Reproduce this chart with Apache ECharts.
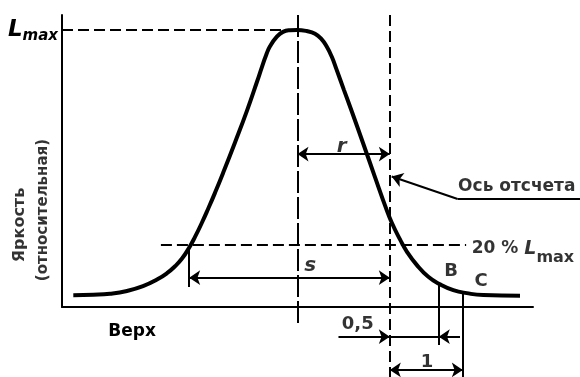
<!DOCTYPE html>
<html>
<head>
<meta charset="utf-8">
<script src="https://cdn.jsdelivr.net/npm/echarts@6/dist/echarts.min.js"></script>
<style>
  html, body { margin: 0; background: #fff; }
  #chart { width: 580px; height: 377px; }
</style>
</head>
<body>
<div id="chart"></div>
<script>
// brightness profile (relative, Lmax = 1), x in arbitrary units 0..100
var curveX = [2.40, 6.65, 10.19, 13.80, 17.20, 20.17, 22.29, 23.99, 25.48, 26.96, 28.24, 29.72, 30.99, 32.48,
  34.18, 36.73, 39.28, 41.40, 42.46, 43.31, 44.16, 45.58, 46.92, 48.41, 49.89,
  51.95, 53.72, 55.14, 56.20, 57.26, 58.32, 59.87, 61.57, 63.91, 66.45, 68.79, 70.00, 71.76, 73.18,
  75.31, 77.77, 80.25, 83.08, 85.92, 89.45, 97.24];
var curveY = [0.042, 0.044, 0.048, 0.058, 0.075, 0.099, 0.122, 0.147, 0.175, 0.213, 0.253, 0.305, 0.353, 0.412,
  0.483, 0.594, 0.709, 0.813, 0.867, 0.908, 0.941, 0.975, 0.993, 0.999, 1.0,
  0.996, 0.986, 0.966, 0.940, 0.904, 0.856, 0.783, 0.704, 0.592, 0.469, 0.357, 0.305, 0.244, 0.201,
  0.152, 0.109, 0.082, 0.061, 0.050, 0.043, 0.041];

// key positions
var peakX = 50;
var refX = 69.6;      // reference axis
var crossX = 27.0;    // left 20 % crossing
var bX = 80.0;
var cX = 85.1;
var lmax = 1;
var level20 = 0.224;
var yTop = 1.054;

// dimension levels
var rLevel = 0.552;
var sLevel = 0.106;
var halfLevel = -0.107;
var oneLevel = -0.227;

// axis label values
var yLabelValues = [1];
var xLabelValues = [14.9];

// text labels: [x, y, text]
var centerLabels = [
  [59.4, 0.58, '{i|r}'],
  [52.7, 0.15, '{i|s}'],
  [82.6, 0.13, 'B'],
  [89.0, 0.094, 'C'],
  [62.8, -0.061, '0,5'],
  [77.5, -0.199, '1']
];
var leftLabels = [
  [84.1, 0.433, 'Ось отсчета'],
  [87.0, 0.206, '{a|20 % }{L|L}{m|max}']
];
var yTitle = [
  [-9.0, 0.296, 'Яркость'],
  [-4.0, 0.35, '(относительная)']
];
var yTitleSizes = [16, 15];

function seg(x1, y1, x2, y2) { return { coords: [[x1, y1], [x2, y2]] }; }
function pts(xs, ys) { return xs.map(function (x, i) { return [x, ys[i]]; }); }

var font = 'DejaVu Sans';
var black = '#000';

var myChart = echarts.init(document.getElementById('chart'));
var option = {
  animation: false,
  grid: { left: 62, right: 47, top: 15, bottom: 70 },
  xAxis: {
    type: 'value', min: 0, max: 100,
    splitLine: { show: false },
    axisTick: { show: false },
    axisLine: { lineStyle: { color: black, width: 2 } },
    axisLabel: {
      customValues: xLabelValues, margin: 16,
      formatter: function () { return 'Верх'; },
      color: black, fontFamily: font, fontSize: 17, fontWeight: 'bold'
    }
  },
  yAxis: {
    type: 'value', min: 0, max: yTop,
    splitLine: { show: false },
    axisTick: { show: false },
    axisLine: { show: true, lineStyle: { color: black, width: 2 } },
    axisLabel: {
      customValues: yLabelValues, margin: 4,
      formatter: function () { return '{L|L}{m|max}'; },
      rich: {
        L: { fontFamily: font, fontSize: 23, fontStyle: 'italic', fontWeight: 'bold', lineHeight: 22, verticalAlign: 'top', color: black },
        m: { fontFamily: font, fontSize: 15, fontStyle: 'italic', fontWeight: 'bold', lineHeight: 16, padding: [10, 0, 0, 0], verticalAlign: 'top', color: black }
      }
    }
  },
  series: [
    {
      type: 'line', data: pts(curveX, curveY), smooth: 0.5, symbol: 'none',
      lineStyle: { color: black, width: 4 }, z: 5
    },
    {
      // dashed guides
      type: 'lines', coordinateSystem: 'cartesian2d', clip: false,
      lineStyle: { color: black, width: 2, type: [11, 5], opacity: 1 },
      data: [
        seg(0, lmax, peakX, lmax),
        seg(21.0, level20, 85.8, level20),
        seg(refX, yTop, refX, -0.253)
      ]
    },
    {
      // centre line through the peak
      type: 'lines', coordinateSystem: 'cartesian2d', clip: false,
      lineStyle: { color: black, width: 2, type: [22, 4], opacity: 1 },
      data: [seg(peakX, yTop, peakX, -0.065)]
    },
    {
      // plain thin lines
      type: 'lines', coordinateSystem: 'cartesian2d', clip: false,
      lineStyle: { color: black, width: 2, opacity: 1 },
      data: [
        seg(crossX, 0.21, crossX, 0.072),
        seg(bX, 0.08, bX, -0.137),
        seg(cX, 0.05, cX, -0.253),
        seg(refX, halfLevel, bX, halfLevel),
        seg(84.0, 0.39, 110, 0.39)
      ]
    },
    {
      // double-headed dimension arrows
      type: 'lines', coordinateSystem: 'cartesian2d', clip: false,
      symbol: ['arrow', 'arrow'], symbolSize: 11,
      lineStyle: { color: black, width: 2, opacity: 1 },
      data: [
        seg(peakX, rLevel, refX, rLevel),
        seg(crossX, sLevel, refX, sLevel),
        seg(refX, oneLevel, cX, oneLevel)
      ]
    },
    {
      // single-headed arrows
      type: 'lines', coordinateSystem: 'cartesian2d', clip: false,
      symbol: ['none', 'arrow'], symbolSize: 11,
      lineStyle: { color: black, width: 2, opacity: 1 },
      data: [
        seg(58.7, halfLevel, refX, halfLevel),
        seg(84.5, halfLevel, bX, halfLevel),
        seg(84.0, 0.39, 70.0, 0.471)
      ]
    },
    {
      type: 'scatter', symbolSize: 0, clip: false, silent: true,
      data: centerLabels,
      label: {
        show: true, position: 'inside', color: black, fontFamily: font, fontSize: 18, fontWeight: 'bold',
        formatter: function (p) { return p.data[2]; },
        rich: { i: { fontFamily: font, fontSize: 20, fontStyle: 'italic', fontWeight: 'bold', color: black } }
      }
    },
    {
      type: 'scatter', symbolSize: 0, clip: false, silent: true,
      data: leftLabels,
      label: {
        show: true, position: 'right', distance: 0, color: black, fontFamily: font, fontSize: 17, fontWeight: 'bold',
        formatter: function (p) { return p.data[2]; },
        rich: {
          a: { fontFamily: font, fontSize: 17, fontWeight: 'bold', lineHeight: 20, verticalAlign: 'top', color: black },
          L: { fontFamily: font, fontSize: 19, fontStyle: 'italic', fontWeight: 'bold', lineHeight: 20, verticalAlign: 'top', color: black },
          m: { fontFamily: font, fontSize: 16, fontWeight: 'bold', lineHeight: 18, padding: [10, 0, 0, 0], verticalAlign: 'top', color: black }
        }
      }
    },
    {
      type: 'scatter', symbolSize: 0, clip: false, silent: true,
      data: yTitle.map(function (d, i) { return { value: d, label: { fontSize: yTitleSizes[i] } }; }),
      label: {
        show: true, position: 'inside', rotate: 90, color: black, fontFamily: font, fontWeight: 'bold',
        formatter: function (p) { return p.value[2]; }
      }
    }
  ]
};

myChart.setOption(option);
</script>
</body>
</html>
